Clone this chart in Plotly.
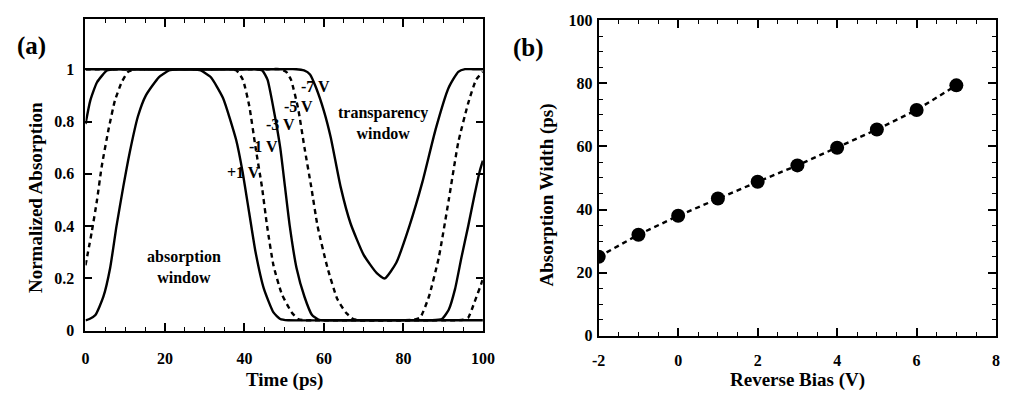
import plotly.graph_objects as go

# ---- (a) normalized absorption vs time for several bias voltages ----
time_p1 = [0, 1, 2.5, 4.5, 6.2, 7.8, 9.5, 11.1, 13.2, 15.2, 18.5, 21, 23, 25, 27, 29,
           31.5, 34.6, 37.9, 39.5, 41.2, 42.8, 44.9, 47.3, 49, 51, 60, 80, 100]
abs_p1 = [0.04, 0.045, 0.06, 0.13, 0.24, 0.40, 0.55, 0.68, 0.82, 0.90, 0.97, 0.995,
          1.0, 1.0, 1.0, 0.995, 0.97, 0.89, 0.73, 0.61, 0.45, 0.30, 0.16, 0.07, 0.045,
          0.04, 0.04, 0.04, 0.04]

time_m1 = [0, 1.6, 2.9, 4.1, 5.8, 7.4, 9.1, 10.7, 12.5, 14.5, 18, 25, 33, 36.5, 38,
           39.6, 41.2, 42.8, 44.4, 45.7, 47.3, 49.4, 51.9, 53.5, 55, 57, 75, 93, 95,
           96.3, 97.9, 99.6, 100]
abs_m1 = [0.25, 0.38, 0.50, 0.63, 0.77, 0.88, 0.95, 0.99, 1.0, 1.0, 1.0, 1.0, 1.0, 1.0,
          0.995, 0.96, 0.86, 0.70, 0.55, 0.40, 0.25, 0.14, 0.07, 0.045, 0.04, 0.04, 0.04,
          0.04, 0.042, 0.05, 0.11, 0.18, 0.20]

time_m3 = [0, 1.2, 2.9, 5.4, 7.5, 10, 25, 40, 43, 44.5, 45.8, 47.3, 49, 50.2, 51.4,
           53.1, 55.1, 57, 58.6, 60, 62, 75, 87, 89.7, 91.4, 93, 94.6, 96.3, 97.9,
           99.2, 100]
abs_m3 = [0.79, 0.88, 0.95, 0.995, 1.0, 1.0, 1.0, 1.0, 1.0, 0.995, 0.96, 0.85, 0.70,
          0.55, 0.40, 0.24, 0.13, 0.06, 0.043, 0.04, 0.04, 0.04, 0.04, 0.045, 0.08,
          0.16, 0.28, 0.40, 0.52, 0.61, 0.65]

time_m5 = [0, 25, 46, 49, 50.5, 51.7, 53.5, 55.1, 56.8, 58.4, 60.9, 63.4, 65.5, 67.4,
           69, 72, 75, 80, 82.5, 84.2, 86.4, 88.9, 91.4, 93.8, 96.3, 98.3, 100]
abs_m5 = [1.0, 1.0, 1.0, 1.0, 0.99, 0.96, 0.85, 0.70, 0.55, 0.40, 0.24, 0.12, 0.07,
          0.045, 0.04, 0.04, 0.04, 0.04, 0.042, 0.05, 0.13, 0.28, 0.50, 0.72, 0.87,
          0.96, 0.99]

time_m7 = [0, 25, 50, 53, 55, 56.5, 58, 60, 61.7, 64.2, 66.7, 70, 73.3, 75.3, 78.2,
           81.5, 84.8, 88.1, 91.4, 93.8, 95.5, 97.5, 100]
abs_m7 = [1.0, 1.0, 1.0, 1.0, 0.995, 0.98, 0.93, 0.84, 0.74, 0.55, 0.41, 0.29, 0.22,
          0.20, 0.26, 0.40, 0.57, 0.77, 0.93, 0.99, 1.0, 1.0, 1.0]

bias_labels = ["+1 V", "-1 V", "-3 V", "-5 V", "-7 V"]
label_time = [39.8, 44.7, 49.1, 53.6, 57.8]
label_abs = [0.604, 0.703, 0.788, 0.857, 0.934]

a_xticks = [0, 20, 40, 60, 80, 100]
a_yticks = [0, 0.2, 0.4, 0.6, 0.8, 1]
a_yticktext = ["0", "0.2", "0.4", "0.6", "0.8", "1"]

# ---- (b) absorption window width vs reverse bias ----
reverse_bias = [-2, -1, 0, 1, 2, 3, 4, 5, 6, 7]
abs_width = [25, 32, 38, 43.5, 48.8, 54, 59.6, 65.4, 71.6, 79.4]

b_xticks = [-2, 0, 2, 4, 6, 8]
b_xticktext = ["-2", "0", "2", "4", "6", "8"]
b_yticks = [0, 20, 40, 60, 80, 100]

FONT = "Liberation Serif"
W, H = 1013, 402

fig = go.Figure()

curves = [
    (time_p1, abs_p1, "solid"),
    (time_m1, abs_m1, "5px,4px"),
    (time_m3, abs_m3, "solid"),
    (time_m5, abs_m5, "5px,4px"),
    (time_m7, abs_m7, "solid"),
]
for t, a, dash in curves:
    fig.add_trace(go.Scatter(
        x=t, y=a, mode="lines", xaxis="x", yaxis="y",
        line=dict(color="black", width=2.4, dash=dash, shape="spline", smoothing=0.5),
        hoverinfo="skip", showlegend=False,
    ))

fig.add_trace(go.Scatter(
    x=reverse_bias, y=abs_width, mode="lines+markers", xaxis="x2", yaxis="y2",
    line=dict(color="black", width=2.4, dash="5px,4px"),
    marker=dict(color="black", size=14),
    showlegend=False,
))


def px_x(p):
    return p / W


def px_y(p):
    return (H - p) / H


tickfont = dict(family=FONT, size=16, color="black", weight="bold")
axis_common = dict(
    showline=True, linecolor="black", linewidth=2, mirror="ticks",
    ticks="inside", tickcolor="black", tickwidth=1.6,
    showgrid=False, zeroline=False, tickfont=tickfont,
)
minor_common = dict(ticks="inside", ticklen=4, tickcolor="black", tickwidth=1.4)

fig.update_layout(
    width=W, height=H,
    margin=dict(l=0, r=0, t=0, b=0),
    paper_bgcolor="white", plot_bgcolor="white",
    showlegend=False,
    xaxis=dict(
        domain=[px_x(80), px_x(485)], range=[0, 100],
        tickmode="array", tickvals=a_xticks, ticklen=8,
        minor=dict(tickmode="linear", tick0=0, dtick=5, **minor_common),
        ticklabelstandoff=12,
        anchor="y", **axis_common,
    ),
    yaxis=dict(
        domain=[px_y(337), px_y(12)], range=[0, 1.19],
        tickmode="array", tickvals=a_yticks, ticktext=a_yticktext, ticklen=7,
        ticklabelstandoff=6,
        anchor="x", **axis_common,
    ),
    xaxis2=dict(
        domain=[px_x(603), px_x(1008)], range=[-2, 8],
        tickmode="array", tickvals=b_xticks, ticktext=b_xticktext, ticklen=8,
        minor=dict(tickmode="linear", tick0=-2, dtick=0.5, **minor_common),
        ticklabelstandoff=9,
        anchor="y2", **axis_common,
    ),
    yaxis2=dict(
        domain=[px_y(342), px_y(13)], range=[0, 100],
        tickmode="array", tickvals=b_yticks, ticklen=8,
        minor=dict(tickmode="linear", tick0=0, dtick=5, **minor_common),
        ticklabelstandoff=1,
        anchor="x2", **axis_common,
    ),
)

title_font = dict(family=FONT, size=19, color="black", weight="bold")
note_font = dict(family=FONT, size=16, color="black", weight="bold")
panel_font = dict(family=FONT, size=25, color="black", weight="bold")

annotations = [
    dict(text="(a)", x=px_x(25), y=px_y(40), font=panel_font),
    dict(text="(b)", x=px_x(531), y=px_y(42), font=panel_font),
    dict(text="Normalized Absorption", x=px_x(29), y=px_y(198), textangle=-90, font=title_font),
    dict(text="Time (ps)", x=px_x(283), y=px_y(388), font=title_font),
    dict(text="Absorption Width (ps)", x=px_x(550), y=px_y(195), textangle=-90, font=title_font),
    dict(text="Reverse Bias (V)", x=px_x(806), y=px_y(388), font=title_font),
]
for ann in annotations:
    ann.update(xref="paper", yref="paper", showarrow=False, xanchor="center", yanchor="middle")
    fig.add_annotation(**ann)

# curve labels and window captions, placed in data coordinates of panel (a)
for txt, tx, ty in zip(bias_labels, label_time, label_abs):
    fig.add_annotation(text=txt, x=tx, y=ty, xref="x", yref="y", showarrow=False,
                       font=dict(family=FONT, size=16, color="black", weight="bold"))

fig.add_annotation(text="transparency<br>window", x=74.8, y=0.795, xref="x", yref="y",
                   showarrow=False, font=note_font)
fig.add_annotation(text="absorption<br>window", x=24.7, y=0.245, xref="x", yref="y",
                   showarrow=False, font=note_font)

fig.write_html("out.html")
